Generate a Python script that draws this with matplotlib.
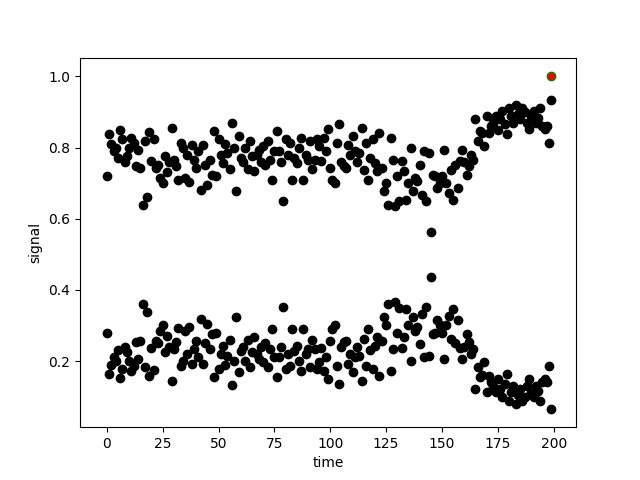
import matplotlib
matplotlib.use("Agg")
import matplotlib.pyplot as plt
import numpy as np

# upper-band signal values, one per time step; the lower band mirrors it (1 - value)
signal = [
    0.72, 0.837, 0.81, 0.79, 0.80, 0.77, 0.849, 0.823, 0.76, 0.776,
    0.80, 0.828, 0.814, 0.747, 0.794, 0.743, 0.64, 0.818, 0.661, 0.843,
    0.762, 0.824, 0.744, 0.75, 0.715, 0.70, 0.776, 0.73, 0.76, 0.855,
    0.766, 0.747, 0.708, 0.813, 0.80, 0.715, 0.78, 0.703, 0.808, 0.766,
    0.743, 0.79, 0.682, 0.808, 0.75, 0.696, 0.766, 0.724, 0.846, 0.72,
    0.823, 0.78, 0.757, 0.81, 0.785, 0.74, 0.868, 0.80, 0.677, 0.832,
    0.771, 0.76, 0.80, 0.74, 0.818, 0.776, 0.733, 0.78, 0.794, 0.76,
    0.804, 0.75, 0.818, 0.766, 0.71, 0.79, 0.846, 0.79, 0.76, 0.649,
    0.823, 0.78, 0.813, 0.71, 0.771, 0.757, 0.80, 0.827, 0.71, 0.78,
    0.766, 0.818, 0.74, 0.766, 0.823, 0.804, 0.762, 0.827, 0.79, 0.851,
    0.743, 0.71, 0.70, 0.813, 0.865, 0.76, 0.747, 0.743, 0.808, 0.78,
    0.832, 0.79, 0.76, 0.785, 0.855, 0.738, 0.813, 0.71, 0.77, 0.823,
    0.757, 0.733, 0.841, 0.743, 0.677, 0.70, 0.64, 0.827, 0.766, 0.635,
    0.72, 0.65, 0.762, 0.733, 0.653, 0.70, 0.80, 0.677, 0.715, 0.705,
    0.752, 0.668, 0.79, 0.649, 0.785, 0.564, 0.724, 0.72, 0.686, 0.70,
    0.72, 0.794, 0.70, 0.672, 0.738, 0.653, 0.75, 0.686, 0.762, 0.794,
    0.76, 0.724, 0.747, 0.78, 0.766, 0.879, 0.818, 0.846, 0.84, 0.804,
    0.888, 0.841, 0.86, 0.87, 0.888, 0.85, 0.88, 0.902, 0.865, 0.837,
    0.912, 0.888, 0.87, 0.921, 0.895, 0.879, 0.912, 0.90, 0.87, 0.851,
    0.89, 0.902, 0.87, 0.884, 0.912, 0.86, 0.851, 0.86, 0.813, 0.935,
]
time = np.arange(len(signal))
mirror = [1 - v for v in signal]

highlight_t = [199]
highlight_v = [1.0]

fig, ax = plt.subplots(figsize=(6.4, 4.8), dpi=100)
ax.scatter(time, signal, color='k')
ax.scatter(time, mirror, color='k')
ax.scatter(highlight_t, highlight_v, facecolor='red', edgecolor='green')
ax.set_xlim(-12, 210)
ax.set_ylim(0.014, 1.053)
ax.set_xlabel("time")
ax.set_ylabel("signal")

plt.savefig("out.png")
